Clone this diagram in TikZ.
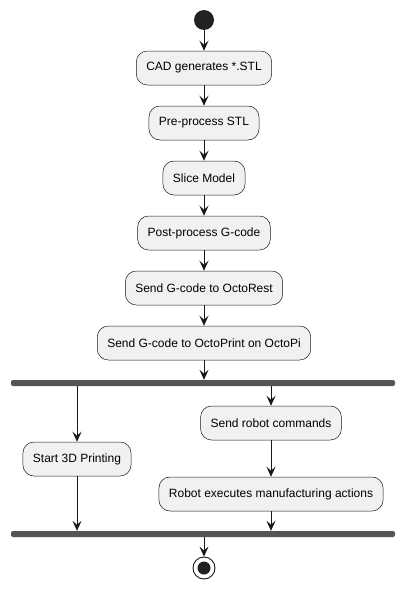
\documentclass[tikz,border=0pt]{standalone}
\usepackage{fontspec}
\setmainfont{Liberation Sans}
\usetikzlibrary{arrows.meta}

\begin{document}
\begin{tikzpicture}[x=1pt,y=-1pt,font=\fontsize{12}{14}\selectfont,
  act/.style={draw={rgb,255:red,24;green,24;blue,24}, line width=0.5pt, fill={rgb,255:red,241;green,241;blue,241}, rounded corners=11pt, minimum height=34pt, inner xsep=10pt},
  bar/.style={fill={rgb,255:red,85;green,85;blue,85}, rounded corners=2pt, minimum width=384pt, minimum height=6pt, inner sep=0pt},
  flow/.style={-{Stealth[length=10pt,width=9pt,inset=4pt]}, line width=0.9pt, draw={rgb,255:red,24;green,24;blue,24}}]
\useasboundingbox (0,0) rectangle (405,589);
\fill[white] (0,0) rectangle (405,589);

\node[circle, fill={rgb,255:red,34;green,34;blue,34}, minimum size=20pt, inner sep=0pt] (start) at (204,20) {};
\node[act] (cad) at (204,68) {CAD generates *.STL};
\node[act] (pre) at (204,123) {Pre-process STL};
\node[act] (slice) at (204,178) {Slice Model};
\node[act] (post) at (204,233) {Post-process G-code};
\node[act] (rest) at (204,288) {Send G-code to OctoRest};
\node[act] (pi) at (204,343) {Send G-code to OctoPrint on OctoPi};
\node[bar] (fork) at (203,383) {};
\node[act] (print) at (77,459) {Start 3D Printing};
\node[act] (cmds) at (271,423) {Send robot commands};
\node[act] (robot) at (271,494) {Robot executes manufacturing actions};
\node[bar] (join) at (203,534) {};
\node[circle, draw={rgb,255:red,24;green,24;blue,24}, line width=0.9pt, fill=white, minimum size=22pt, inner sep=0pt] (stop) at (204,568) {};
\node[circle, fill={rgb,255:red,34;green,34;blue,34}, minimum size=13pt, inner sep=0pt] (stopdot) at (stop) {};

\draw[flow] (start) -- (cad);
\draw[flow] (cad) -- (pre);
\draw[flow] (pre) -- (slice);
\draw[flow] (slice) -- (post);
\draw[flow] (post) -- (rest);
\draw[flow] (rest) -- (pi);
\draw[flow] (pi) -- (pi |- fork.north);
\draw[flow] (fork.south -| print) -- (print);
\draw[flow] (fork.south -| cmds) -- (cmds);
\draw[flow] (cmds) -- (robot);
\draw[flow] (print) -- (print |- join.north);
\draw[flow] (robot) -- (robot |- join.north);
\draw[flow] (join.south -| stop) -- (stop);

\end{tikzpicture}
\end{document}
